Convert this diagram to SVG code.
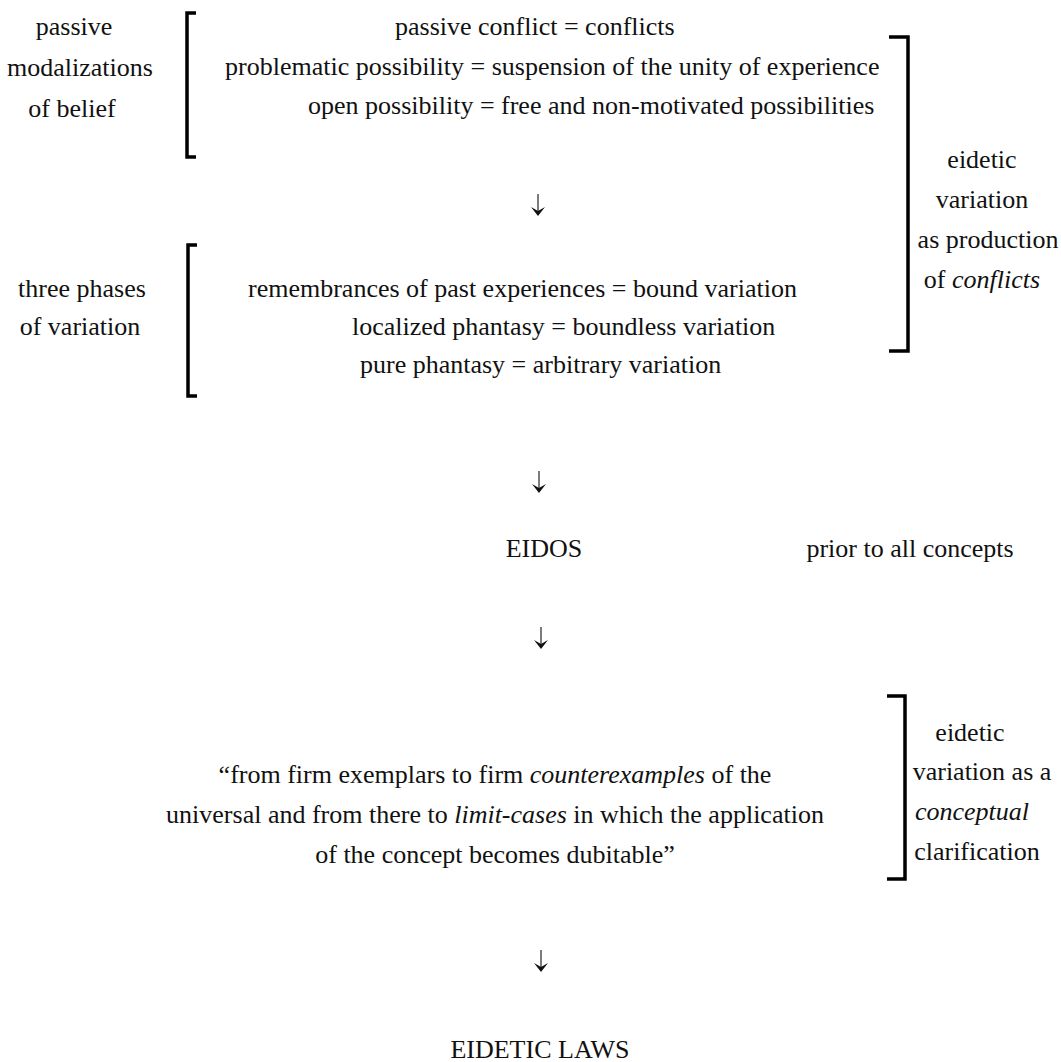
<svg xmlns="http://www.w3.org/2000/svg" width="1061" height="1062" viewBox="0 0 1061 1062" font-family="'Liberation Serif', 'DejaVu Serif', serif">
<style>
text{font-family:'Liberation Serif','DejaVu Serif',serif;font-size:26px;fill:#111}
.m{text-anchor:middle}
.i{font-style:italic}
.br{fill:none;stroke:#000;stroke-width:3.5;stroke-linejoin:miter}
.st{stroke:#444;stroke-width:1.4;fill:none}
.hd{fill:#111;stroke:none}
</style>
<rect width="1061" height="1062" fill="#fff"/>
<g id="node-modalizations">
<text class="m" x="74" y="35">passive</text>
<text class="m" x="80" y="76">modalizations</text>
<text class="m" x="72" y="117">of belief</text>
<path class="br" d="M196,13 H187 V157 H196"/>
<text x="395" y="35">passive conflict = conflicts</text>
<text x="225" y="75">problematic possibility = suspension of the unity of experience</text>
<text x="308" y="114">open possibility = free and non-motivated possibilities</text>
</g>
<g id="node-phases">
<text class="m" x="82" y="297">three phases</text>
<text class="m" x="80" y="335">of variation</text>
<path class="br" d="M197,245 H188 V396 H197"/>
<text x="248" y="297">remembrances of past experiences = bound variation</text>
<text x="352" y="335">localized phantasy = boundless variation</text>
<text x="360" y="373">pure phantasy = arbitrary variation</text>
</g>
<g id="node-production">
<path class="br" d="M889,37 H908 V351 H889"/>
<text class="m" x="982" y="168">eidetic</text>
<text class="m" x="982" y="208">variation</text>
<text class="m" x="988" y="248">as production</text>
<text class="m" x="982" y="288">of <tspan class="i">conflicts</tspan></text>
</g>
<g id="node-eidos">
<text class="m" x="544" y="557">EIDOS</text>
</g>
<g id="node-prior">
<text class="m" x="910" y="557">prior to all concepts</text>
</g>
<g id="node-quote">
<text class="m" x="495" y="783">“from firm exemplars to firm <tspan class="i">counterexamples</tspan> of the</text>
<text class="m" x="495" y="823">universal and from there to <tspan class="i">limit-cases</tspan> in which the application</text>
<text class="m" x="495" y="863">of the concept becomes dubitable”</text>
</g>
<g id="node-clarification">
<path class="br" d="M887,696 H905 V879 H887"/>
<text class="m" x="970" y="741">eidetic</text>
<text class="m" x="982" y="780">variation as a</text>
<text class="m i" x="972" y="820">conceptual</text>
<text class="m" x="977" y="860">clarification</text>
</g>
<g id="node-laws">
<text class="m" x="540" y="1058">EIDETIC LAWS</text>
</g>
<g id="connectors">
<path class="st" d="M538,194 V212"/>
<path class="hd" d="M531,207 L538,216 L545,207 L538,211 Z"/>
<path class="st" d="M539,471 V489"/>
<path class="hd" d="M532,484 L539,493 L546,484 L539,488 Z"/>
<path class="st" d="M541,627 V645"/>
<path class="hd" d="M534,640 L541,649 L548,640 L541,644 Z"/>
<path class="st" d="M541,950 V968"/>
<path class="hd" d="M534,963 L541,972 L548,963 L541,967 Z"/>
</g>
</svg>
